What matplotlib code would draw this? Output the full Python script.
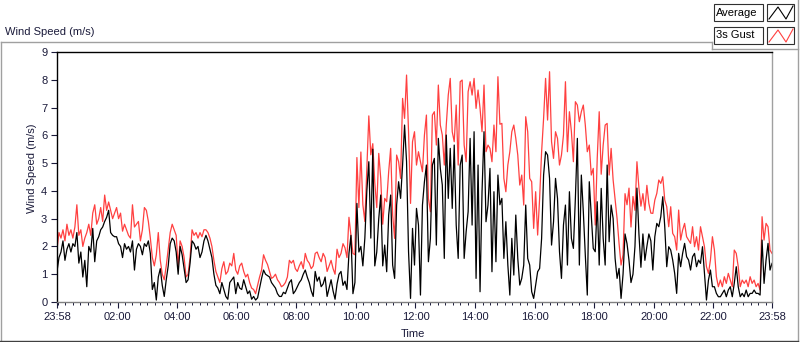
import numpy as np
import matplotlib.pyplot as plt
from matplotlib.ticker import FixedLocator
from matplotlib.lines import Line2D
from matplotlib.patches import Rectangle

plt.rcParams['font.family'] = ['Liberation Sans', 'DejaVu Sans']

# samples every 4 minutes, starting at 23:58
step_min = 4

# 3 s gust (m/s), one row per hour
gust = [
    1.9, 2.5, 2.3, 2.6, 2.2, 2.8, 2.4, 2.6, 2.3, 2.7, 3.5, 2.4, 2.6, 2.0, 2.3,
    2.5, 2.8, 2.4, 3.2, 3.5, 2.8, 3.0, 3.4, 2.9, 3.85, 3.3, 3.6, 3.3, 3.0, 3.2,
    3.4, 3.0, 3.2, 2.55, 2.8, 2.6, 2.4, 2.3, 3.5, 2.7, 2.8, 2.9, 2.2, 2.6, 3.4,
    3.3, 2.9, 2.3, 1.6, 1.3, 1.7, 2.5, 1.5, 1.0, 0.8, 1.3, 1.9, 2.5, 2.8, 2.6,
    2.4, 1.3, 2.2, 2.0, 1.6, 0.9, 1.0, 1.6, 2.6, 2.4, 2.5, 2.3, 2.5, 2.35, 2.6,
    2.6, 2.5, 2.3, 2.0, 1.5, 1.1, 0.9, 0.7, 1.2, 1.45, 1.0, 1.1, 1.4, 1.3, 1.75,
    1.15, 1.0, 1.3, 1.4, 1.1, 0.9, 1.0, 0.7, 0.5, 0.45, 0.3, 0.6, 0.9, 1.15, 1.7,
    1.5, 1.35, 1.1, 0.85, 0.9, 1.0, 0.8, 0.7, 0.55, 0.6, 0.7, 0.9, 1.5, 1.4, 1.5,
    1.2, 1.1, 1.3, 1.45, 1.2, 1.75, 1.5, 1.4, 1.2, 1.3, 1.75, 1.8, 1.6, 1.45, 1.75,
    1.6, 1.1, 1.3, 1.5, 1.2, 1.0, 1.9, 1.6, 1.75, 2.1, 1.95, 1.6, 3.05, 2.4, 1.75,
    1.7, 5.2, 3.4, 5.4, 3.5, 2.9, 4.8, 6.7, 5.3, 5.7, 4.3, 3.4, 5.35, 4.45, 2.8,
    3.73, 3.61, 4.69, 5.53, 3.13, 2.29, 5.29, 5.05, 4.45, 7.33, 6.61, 8.17, 6.13, 3.55, 5.77,
    6.13, 4.93, 5.41, 5.05, 4.69, 6.01, 6.73, 3.73, 3.25, 6.73, 6.85, 5.65, 7.81, 6.37, 6.01,
    4.93, 6.37, 7.45, 8.05, 6.13, 5.77, 7.09, 4.93, 7.93, 7.99, 5.65, 5.05, 7.57, 7.93, 7.45,
    8.05, 6.97, 7.63, 6.97, 6.13, 7.81, 5.41, 5.65, 5.53, 5.05, 6.37, 5.41, 8.11, 6.4, 6.43,
    4.45, 3.97, 4.93, 5.41, 6.13, 6.37, 5.89, 5.29, 4.21, 4.57, 3.49, 6.67, 6.13, 4.45, 4.33,
    2.65, 3.97, 2.41, 3.73, 5.41, 6.61, 8.05, 6.55, 8.29, 5.77, 5.17, 6.13, 5.89, 4.93, 5.29,
    6.01, 7.93, 5.41, 6.85, 6.13, 5.05, 7.21, 7.09, 6.49, 6.85, 7.09, 6.37, 5.41, 5.65, 4.57,
    4.81, 2.77, 5.17, 6.85, 4.6, 5.65, 6.37, 6.43, 4.57, 5.53, 4.4, 3.7, 3.0, 2.1, 1.33,
    1.7, 3.9, 3.5, 4.1, 2.7, 3.8, 3.3, 5.05, 4.1, 3.45, 3.9, 3.3, 4.2, 3.55, 3.2,
    3.19, 3.67, 3.91, 4.39, 4.27, 4.51, 3.67, 3.43, 2.71, 3.43, 2.47, 2.35, 1.87, 3.31, 2.23,
    2.59, 2.83, 2.35, 2.23, 2.11, 2.71, 1.99, 2.35, 1.87, 2.71, 2.35, 1.99, 1.27, 1.03, 1.51,
    2.35, 1.87, 0.91, 0.55, 0.79, 0.55, 0.91, 0.67, 1.03, 0.79, 0.55, 1.87, 1.75, 1.27, 0.55,
    0.79, 0.67, 0.79, 0.55, 0.91, 0.67, 0.79, 0.55, 0.67, 0.43, 3.07, 2.23, 2.83, 2.71, 1.87,
    1.75,
]

# average (m/s)
avg = [
    1.1, 1.6, 1.8, 2.2, 1.5, 1.9, 2.1, 1.8, 2.1, 2.0, 2.5, 1.4, 1.8, 0.9, 1.5,
    0.55, 2.0, 1.8, 2.65, 1.45, 2.2, 2.35, 2.6, 2.7, 2.9, 3.05, 3.3, 2.5, 2.4, 2.35,
    2.35, 2.1, 2.0, 1.6, 2.1, 1.9, 2.0, 1.8, 2.2, 1.15, 1.9, 2.1, 2.0, 1.7, 2.1,
    2.0, 2.2, 1.75, 0.45, 0.7, 0.07, 0.9, 1.2, 0.6, 0.2, 0.8, 1.3, 2.1, 2.3, 2.2,
    1.8, 1.0, 2.0, 1.7, 1.2, 0.7, 0.8, 1.4, 2.2, 2.1, 1.9, 2.0, 1.6, 1.8, 2.2,
    2.4, 2.2, 1.9, 1.6, 1.0, 0.6, 0.5, 0.3, 0.7, 0.45, 0.2, 0.1, 0.7, 0.8, 0.9,
    0.3, 0.7, 0.5, 0.45, 0.8, 0.55, 0.3, 0.4, 0.1, 0.2, 0.07, 0.15, 0.5, 0.85, 1.15,
    1.0, 0.95, 0.9, 0.7, 0.6, 0.5, 0.3, 0.2, 0.2, 0.35, 0.3, 0.5, 0.7, 0.8, 0.3,
    0.4, 0.55, 0.7, 0.8, 1.0, 1.15, 0.9, 0.7, 0.4, 0.2, 1.1, 0.75, 0.9, 0.55, 0.65,
    0.9, 0.2, 0.5, 0.8, 0.4, 0.1, 0.65, 1.0, 1.1, 0.6, 0.75, 0.45, 1.75, 2.4, 0.3,
    0.7, 3.55, 1.8, 2.0, 1.3, 2.3, 4.0, 5.05, 2.3, 5.5, 1.3, 1.8, 3.0, 3.85, 1.3,
    2.05, 1.09, 3.13, 3.85, 1.33, 0.85, 3.49, 4.33, 3.73, 4.93, 6.37, 5.05, 1.81, 0.13, 2.65,
    1.33, 3.37, 2.77, 0.25, 3.49, 4.33, 4.93, 1.45, 2.29, 4.93, 5.17, 2.05, 5.89, 4.81, 4.21,
    1.57, 6.01, 3.73, 5.53, 3.37, 5.65, 2.77, 1.57, 4.93, 5.29, 1.57, 2.53, 3.25, 5.89, 2.77,
    6.13, 0.85, 4.93, 0.37, 3.97, 6.13, 2.89, 3.49, 4.81, 1.09, 3.97, 1.45, 4.57, 3.5, 3.73,
    1.57, 2.89, 1.33, 0.25, 2.29, 0.97, 3.13, 1.57, 0.61, 0.85, 1.33, 3.49, 1.57, 1.33, 0.37,
    0.13, 0.61, 1.09, 1.21, 2.29, 4.57, 5.41, 5.29, 4.45, 2.05, 2.89, 4.45, 3.73, 1.81, 0.85,
    2.77, 3.49, 1.33, 3.97, 2.29, 1.93, 3.73, 5.89, 1.33, 4.57, 3.25, 1.69, 0.25, 4.33, 3.13,
    1.93, 1.81, 3.61, 1.33, 4.09, 2.29, 1.33, 4.93, 2.17, 3.49, 3.01, 1.57, 0.85, 1.21, 0.13,
    1.0, 2.45, 2.1, 1.5, 0.7, 1.0, 2.0, 4.1, 2.45, 1.25, 2.45, 1.5, 2.0, 2.45, 2.2,
    1.15, 2.35, 2.83, 2.71, 3.07, 3.79, 2.71, 1.27, 1.99, 1.87, 1.51, 1.03, 0.31, 1.75, 1.27,
    1.75, 2.11, 1.63, 1.51, 1.15, 1.63, 1.75, 1.27, 1.51, 1.39, 1.99, 1.03, 0.07, 0.79, 1.15,
    0.55, 0.55, 0.31, 0.19, 0.19, 0.31, 0.43, 0.19, 0.43, 0.55, 0.19, 0.67, 1.27, 0.55, 0.19,
    0.31, 0.19, 0.43, 0.19, 0.31, 0.31, 0.43, 0.31, 0.31, 0.25, 2.23, 0.67, 1.51, 2.11, 1.15,
    1.39,
]

# x ticks in minutes after 23:58
tick_minutes = [0, 122, 242, 362, 482, 602, 722, 842, 962, 1082, 1202, 1322, 1440]
tick_labels = ['23:58', '02:00', '04:00', '06:00', '08:00', '10:00', '12:00',
               '14:00', '16:00', '18:00', '20:00', '22:00', '23:58']

W, H = 800, 342
fig = plt.figure(figsize=(W / 100, H / 100), dpi=100)
txt = '#1a1a3a'


def fx(x):
    return x / W


def fy(y):
    return 1 - y / H


ax = fig.add_axes([fx(57), fy(302), (772 - 57) / W, (302 - 52) / H])
minutes = np.arange(len(gust)) * step_min
ax.plot(minutes, gust, color='#ff4040', lw=0.9)
ax.plot(minutes[:len(avg)], avg, color='black', lw=0.9)
ax.set_xlim(0, 1440)
ax.set_ylim(0, 9)

ax.set_yticks(range(10))
ax.set_xticks(tick_minutes)
ax.set_xticklabels(tick_labels)
ax.xaxis.set_minor_locator(FixedLocator(np.arange(2, 1440, 15)))
ax.tick_params(axis='both', which='major', direction='out', length=4.5,
               width=0.8, color=txt, labelcolor=txt, labelsize=8, pad=2.5)
ax.tick_params(axis='x', which='minor', direction='out', length=2.5,
               width=0.7, color=txt)
ax.spines['top'].set_color('black')
ax.spines['left'].set_color('black')
ax.spines['right'].set_color('#a0a0a0')
ax.spines['bottom'].set_color('#808080')
for s in ax.spines.values():
    s.set_linewidth(1.0)

# titles
fig.text(fx(5), fy(32), 'Wind Speed (m/s)', fontsize=8, color=txt, va='center')
fig.text(fx(32), fy(168), 'Wind Speed (m/s)', fontsize=8, color=txt,
         rotation=90, ha='center', va='center')
fig.text(fx(413), fy(334), 'Time', fontsize=8, color=txt, ha='center', va='center')

# outer gray frame
gray = '#a0a0a0'
frame = [
    ([0.5, 712], [42, 42]),
    ([712, 712], [42, 49]),
    ([712, 798], [49, 49]),
    ([798, 798], [0, 341]),
    ([0.5, 0.5], [42, 341]),
]
for xs, ys in frame:
    fig.add_artist(Line2D([fx(v) for v in xs], [fy(v) for v in ys],
                          transform=fig.transFigure, color=gray, lw=1))
fig.add_artist(Line2D([fx(0), fx(798)], [fy(340.5), fy(340.5)],
                      transform=fig.transFigure, color='#404040', lw=1))

# legend
legend = [('Average', 'black', 4), ('3s Gust', '#ff4040', 27)]
for name, col, top in legend:
    fig.add_artist(Rectangle((fx(714), fy(top + 17)), 49 / W, 17 / H,
                             transform=fig.transFigure, facecolor='white',
                             edgecolor='#303030', lw=0.8))
    fig.text(fx(716), fy(top + 8.5), name, fontsize=8, color='black', va='center')
    fig.add_artist(Rectangle((fx(767), fy(top + 17)), 27 / W, 17 / H,
                             transform=fig.transFigure, facecolor='white',
                             edgecolor='#303030', lw=0.8))
    fig.add_artist(Line2D([fx(769), fx(778), fx(786), fx(793)],
                          [fy(top + 15), fy(top + 3), fy(top + 15), fy(top + 2)],
                          transform=fig.transFigure, color=col, lw=0.8))

fig.savefig('out.png', dpi=100)
